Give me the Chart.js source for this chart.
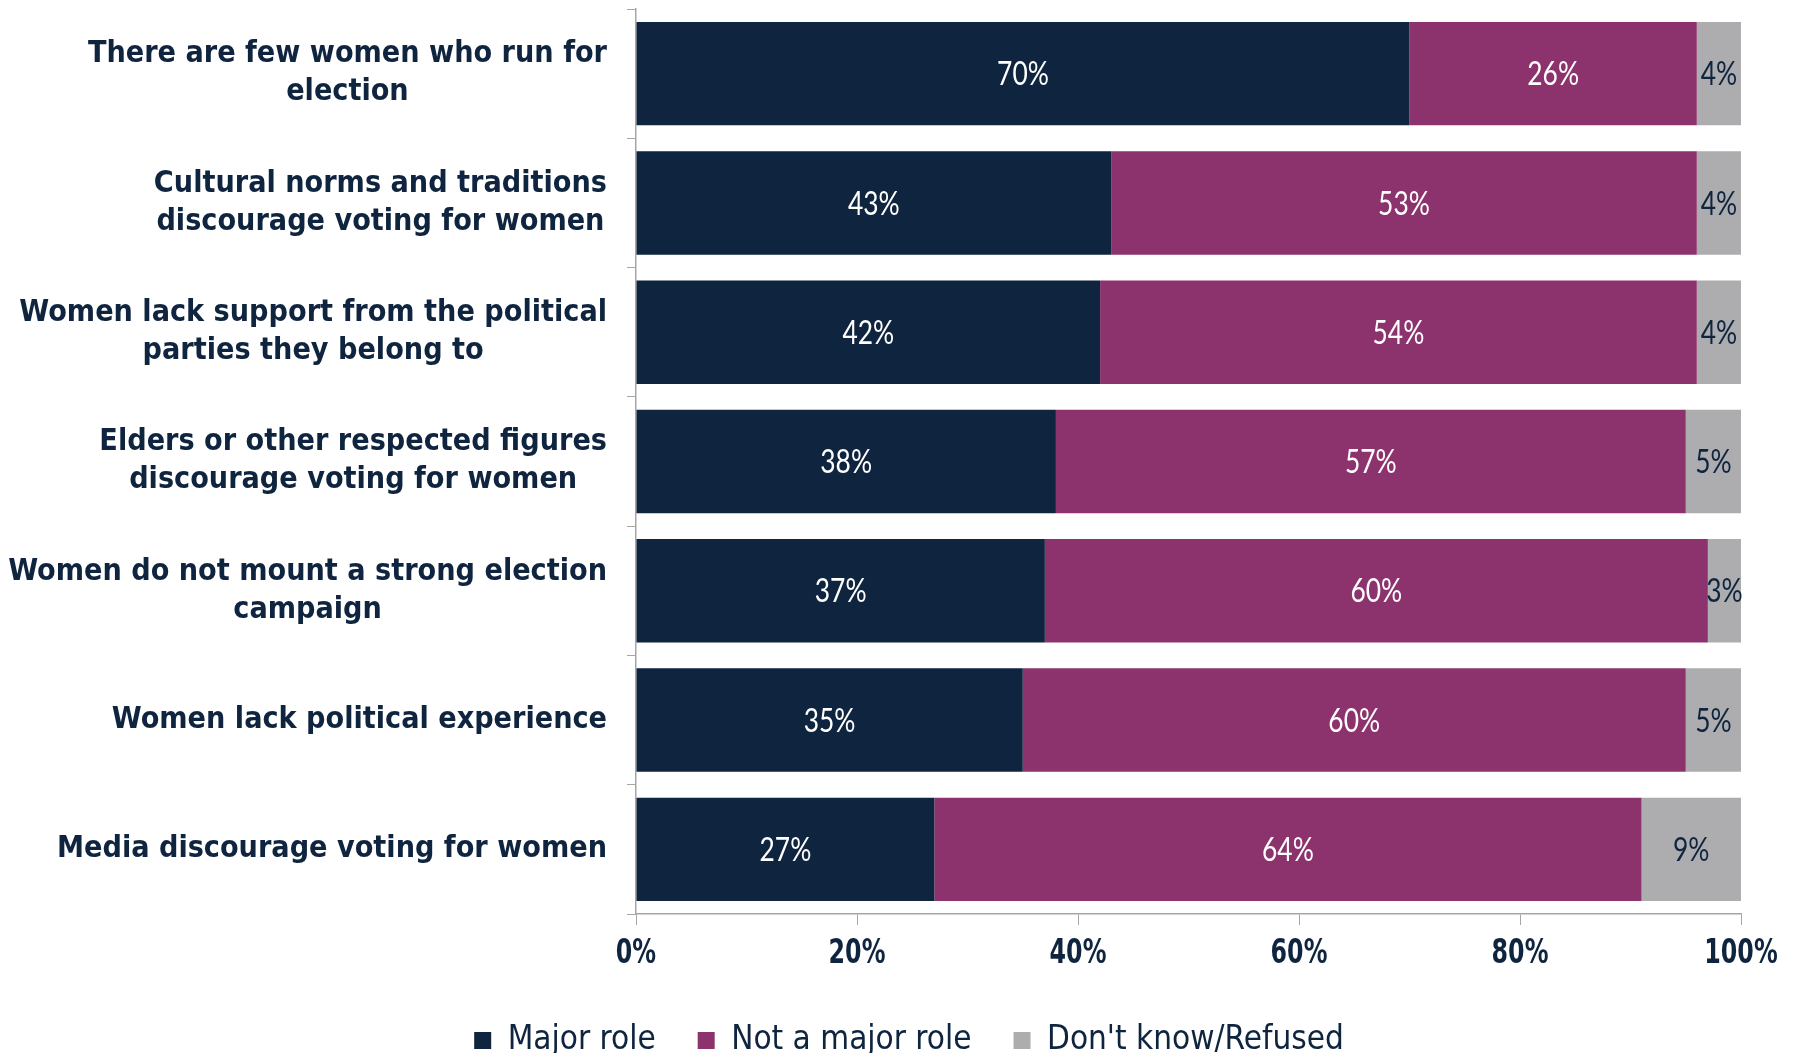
<!DOCTYPE html>
<html>
<head>
<meta charset="utf-8">
<title>Reasons for few women in elected office</title>
<script src="https://cdn.jsdelivr.net/npm/chart.js@4.4.1/dist/chart.umd.min.js"></script>
<style>
  html, body { margin: 0; padding: 0; background: #ffffff; }
  #wrap { position: relative; width: 1801px; height: 1053px; }
</style>
</head>
<body>
<div id="wrap"><canvas id="chart"></canvas></div>
<script>
// Survey statements (each entry holds the wrapped lines of one label)
const categories = [
  ['There are few women who run for', 'election'],
  ['Cultural norms and traditions', 'discourage voting for women'],
  ['Women lack support from the political', 'parties they belong to'],
  ['Elders or other respected figures', 'discourage voting for women'],
  ['Women do not mount a strong election', 'campaign'],
  ['Women lack political experience'],
  ['Media discourage voting for women']
];

// Share of respondents (%) per answer
const majorRole    = [70, 43, 42, 38, 37, 35, 27];
const notMajorRole = [26, 53, 54, 57, 60, 60, 64];
const dontKnow     = [4, 4, 4, 5, 3, 5, 9];

const seriesNames = ['Major role', 'Not a major role', "Don't know/Refused"];
const xTickValues = [0, 20, 40, 60, 80, 100];

const NAVY = '#0f243e';
const PLUM = '#8c336d';
const GREY = '#adadaf';
const AXIS = '#a6a6a6';

const CONDENSED = '"DejaVu Sans Condensed", "DejaVu Sans", sans-serif';

// Draws text squeezed horizontally around its centre point
function squeezedText(ctx, text, x, y, sx) {
  ctx.save();
  ctx.translate(x, y);
  ctx.scale(sx, 1);
  ctx.fillText(text, 0, 0);
  ctx.restore();
}

// Right-aligned label blocks whose lines are centred on each other
const categoryLabels = {
  id: 'categoryLabels',
  afterDraw(chart) {
    const yScale = chart.scales.y;
    const ctx = chart.ctx;
    const right = yScale.right - 29;
    const lineHeight = 38;
    ctx.save();
    ctx.font = 'bold 30.2px ' + CONDENSED;
    ctx.fillStyle = NAVY;
    ctx.textAlign = 'center';
    ctx.textBaseline = 'middle';
    categories.forEach((lines, i) => {
      const cy = yScale.getPixelForValue(i);
      const w = Math.max(...lines.map(l => ctx.measureText(l).width));
      const cx = right - w / 2;
      lines.forEach((line, j) => {
        ctx.fillText(line, cx, cy + (j - (lines.length - 1) / 2) * lineHeight);
      });
    });
    ctx.restore();
  }
};

// Percent labels under the value axis
const valueAxisLabels = {
  id: 'valueAxisLabels',
  afterDraw(chart) {
    const xScale = chart.scales.x;
    const ctx = chart.ctx;
    ctx.save();
    ctx.font = 'bold 33px ' + CONDENSED;
    ctx.fillStyle = NAVY;
    ctx.textAlign = 'center';
    ctx.textBaseline = 'middle';
    xTickValues.forEach(v => {
      squeezedText(ctx, v + '%', xScale.getPixelForValue(v), xScale.top + 40, 0.8);
    });
    ctx.restore();
  }
};

// Percentage written in the middle of every bar segment
const segmentValues = {
  id: 'segmentValues',
  afterDatasetsDraw(chart) {
    const ctx = chart.ctx;
    ctx.save();
    ctx.font = '33px Lato, "Open Sans", sans-serif';
    ctx.textAlign = 'center';
    ctx.textBaseline = 'middle';
    chart.data.datasets.forEach((ds, di) => {
      const meta = chart.getDatasetMeta(di);
      ctx.fillStyle = ds.valueColor;
      meta.data.forEach((bar, i) => {
        const p = bar.getProps(['x', 'base', 'y'], true);
        squeezedText(ctx, ds.data[i] + '%', (p.x + p.base) / 2, p.y + 1, 0.8);
      });
    });
    ctx.restore();
  }
};

new Chart(document.getElementById('chart'), {
  type: 'bar',
  data: {
    labels: categories.map(c => c.join(' ')),
    datasets: [
      { label: seriesNames[0], data: majorRole, backgroundColor: NAVY, valueColor: '#ffffff' },
      { label: seriesNames[1], data: notMajorRole, backgroundColor: PLUM, valueColor: '#ffffff' },
      { label: seriesNames[2], data: dontKnow, backgroundColor: GREY, valueColor: NAVY }
    ]
  },
  options: {
    indexAxis: 'y',
    responsive: true,
    maintainAspectRatio: false,
    animation: false,
    datasets: { bar: { categoryPercentage: 1.0, barPercentage: 0.8, borderWidth: 0 } },
    layout: { padding: { top: 9, right: 60, left: 77, bottom: -14 } },
    scales: {
      x: {
        stacked: true,
        min: 0,
        max: 100,
        afterBuildTicks(scale) { scale.ticks = xTickValues.map(v => ({ value: v })); },
        afterFit(scale) { scale.height = 68; },
        ticks: { display: false },
        grid: { drawOnChartArea: false, drawTicks: true, tickLength: 11, color: AXIS, lineWidth: 1 },
        border: { display: true, color: AXIS, width: 1.5 }
      },
      y: {
        stacked: true,
        afterFit(scale) { scale.width = 559; },
        ticks: { display: false },
        grid: { drawOnChartArea: false, drawTicks: true, tickLength: 9, offset: true, color: AXIS, lineWidth: 1 },
        border: { display: true, color: AXIS, width: 1.5 }
      }
    },
    plugins: {
      legend: {
        position: 'bottom',
        align: 'center',
        labels: {
          color: NAVY,
          font: { family: CONDENSED, size: 33 },
          boxWidth: 17,
          boxHeight: 17,
          padding: 42
        }
      },
      tooltip: { enabled: false }
    }
  },
  plugins: [categoryLabels, valueAxisLabels, segmentValues]
});
</script>
</body>
</html>
